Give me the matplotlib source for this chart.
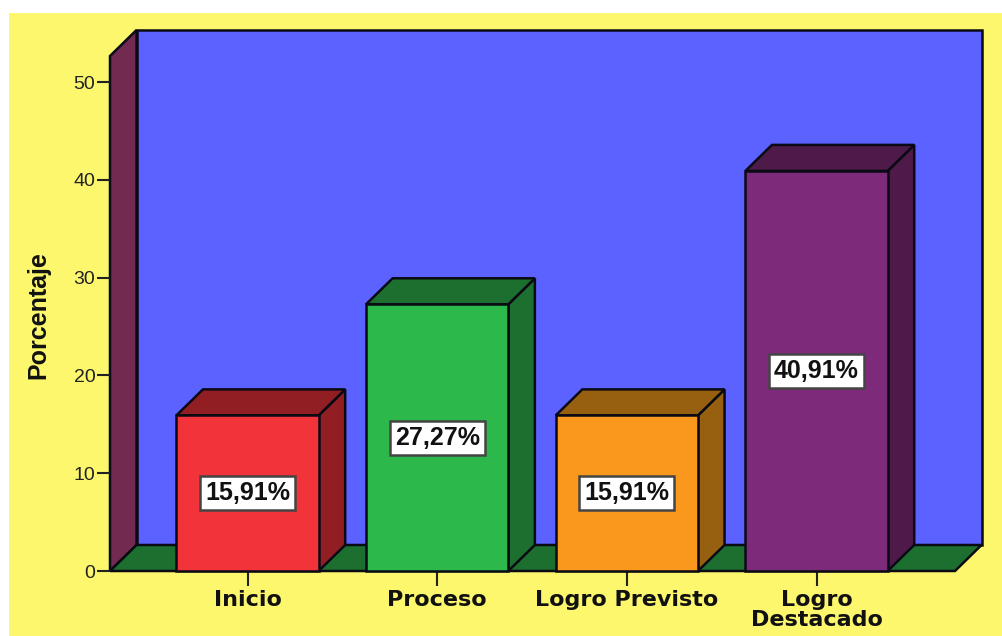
import matplotlib
matplotlib.use('Agg')
import matplotlib.pyplot as plt
from matplotlib.patches import Rectangle

# datos
categorias = ['Inicio', 'Proceso', 'Logro Previsto', 'Logro\nDestacado']
porcentajes = [15.91, 27.27, 15.91, 40.91]
etiquetas = ['15,91%', '27,27%', '15,91%', '40,91%']
yticks = [0, 10, 20, 30, 40, 50]

# colores: frente, lado oscuro
frente = ['#F23339', '#2DB84C', '#F9981C', '#7E2A7A']
lado = ['#901E22', '#1D6F30', '#966010', '#4D1A4A']
amarillo = '#FCF76D'
azul = '#5C62FF'
pared = '#722A50'
piso = '#1D6F30'
borde = '#0A0A14'

W, H = 1003, 636
fig = plt.figure(figsize=(W / 100, H / 100), dpi=100, facecolor='white')
fig.patches.append(Rectangle((9 / W, 0), 1 - 9 / W, 1 - 13 / H, transform=fig.transFigure,
                             facecolor=amarillo, edgecolor='none', zorder=-10))
ax = fig.add_axes([110 / W, (H - 571) / H, 845 / W, 515 / H])
ax.patch.set_visible(False)

xmin, xmax = -0.725, 3.73
ymax = 52.66
ancho = 0.75
dx = 0.14  # profundidad
dy = 2.66
lw = 1.8
ax.set_xlim(xmin, xmax)
ax.set_ylim(0, ymax)

# paredes y piso
ax.fill([xmin + dx, xmax + dx, xmax + dx, xmin + dx], [dy, dy, ymax + dy, ymax + dy],
        facecolor=azul, edgecolor=borde, lw=lw, clip_on=False, zorder=1)
ax.fill([xmin, xmin + dx, xmin + dx, xmin], [0, dy, ymax + dy, ymax],
        facecolor=pared, edgecolor=borde, lw=lw, clip_on=False, zorder=1)
ax.fill([xmin, xmax, xmax + dx, xmin + dx], [0, 0, dy, dy],
        facecolor=piso, edgecolor=borde, lw=lw, clip_on=False, zorder=1)

# barras 3d
for i, v in enumerate(porcentajes):
    x0 = i - ancho / 2
    x1 = i + ancho / 2
    ax.fill([x1, x1 + dx, x1 + dx, x1], [0, dy, v + dy, v],
            facecolor=lado[i], edgecolor=borde, lw=lw, clip_on=False, zorder=2)
    ax.fill([x0, x1, x1 + dx, x0 + dx], [v, v, v + dy, v + dy],
            facecolor=lado[i], edgecolor=borde, lw=lw, clip_on=False, zorder=2)
    ax.bar(i, v, width=ancho, color=frente[i], edgecolor=borde, lw=lw, clip_on=False, zorder=3)
    ax.text(i, v / 2, etiquetas[i], ha='center', va='center', fontsize=18, fontweight='bold',
            family='Liberation Sans', color='#111111', zorder=4,
            bbox=dict(boxstyle='square,pad=0.2', facecolor='white', edgecolor='#444444', lw=1.8))

for s in ax.spines.values():
    s.set_visible(False)

ax.set_yticks(yticks)
ax.set_yticklabels([str(t) for t in yticks], family='Liberation Sans', fontsize=14, color='#222222')
ax.tick_params(axis='y', length=9.5, width=1.5, color='#222222', pad=1)
ax.set_xticks(range(len(categorias)))
ax.set_xticklabels(categorias, family='DejaVu Sans', fontsize=16, fontweight='bold',
                   color='#111111', linespacing=0.95)
ax.tick_params(axis='x', length=11, width=1.5, color='#222222', pad=3)

fig.text(38 / W, (H - 315) / H, 'Porcentaje', rotation=90, ha='center', va='center',
         family='Liberation Sans', fontsize=18, fontweight='bold', color='#111111')

fig.savefig('out.png', dpi=100, facecolor='white')
